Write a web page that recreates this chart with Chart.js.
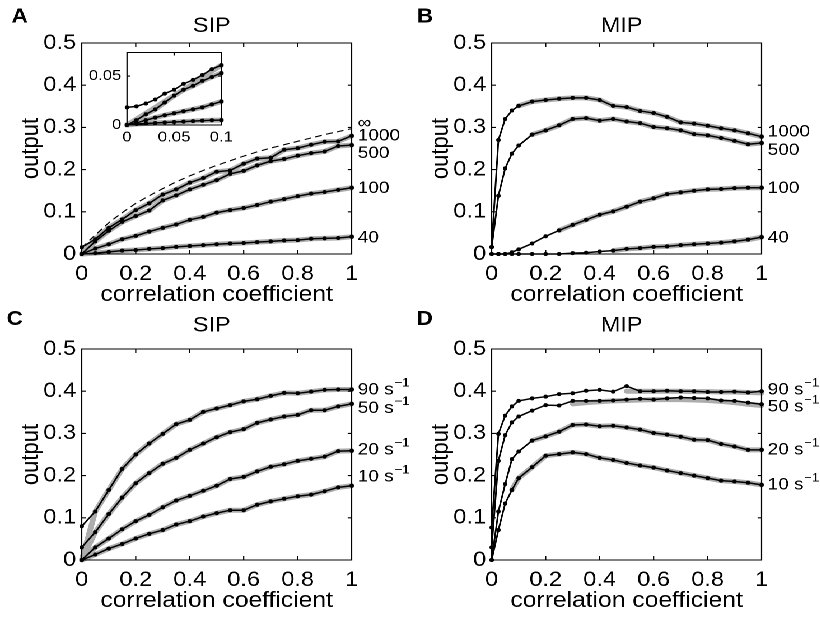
<!DOCTYPE html>
<html>
<head>
<meta charset="utf-8">
<script src="https://cdn.jsdelivr.net/npm/chart.js@4"></script>
<style>
  html, body { margin: 0; padding: 0; background: #fff; overflow: hidden; }
  #wrap { position: absolute; left: 0; top: 0; width: 732px; height: 617px; transform: scaleX(1.12); transform-origin: 0 0; }
  canvas { position: absolute; }
</style>
</head>
<body>
<div id="wrap">
  <canvas id="cA" width="366" height="308" style="left:0;top:0"></canvas>
  <canvas id="cB" width="366" height="308" style="left:366px;top:0"></canvas>
  <canvas id="cC" width="366" height="308" style="left:0;top:306px"></canvas>
  <canvas id="cD" width="366" height="308" style="left:366px;top:306px"></canvas>
  <canvas id="cI" width="143" height="107" style="left:70px;top:40px"></canvas>
</div>
<script>
// correlation coefficients
const xSip = [0, 0.05, 0.1, 0.15, 0.2, 0.25, 0.3, 0.35, 0.4, 0.45, 0.5, 0.55, 0.6, 0.65, 0.7, 0.75, 0.8, 0.85, 0.9, 0.95, 1];
const xMip = [0, 0.025, 0.05, 0.075, 0.1, 0.15, 0.2, 0.25, 0.3, 0.35, 0.4, 0.45, 0.5, 0.55, 0.6, 0.65, 0.7, 0.75, 0.8, 0.85, 0.9, 0.95, 1];
const xInset = [0, 0.01, 0.02, 0.03, 0.04, 0.05, 0.06, 0.07, 0.08, 0.09, 0.1];

// A: SIP, number of inputs
const a1000 = [0.016, 0.035, 0.062, 0.082, 0.104, 0.120, 0.141, 0.153, 0.169, 0.180, 0.195, 0.198, 0.214, 0.226, 0.228, 0.247, 0.251, 0.259, 0.266, 0.267, 0.280];
const a500 = [0, 0.030, 0.055, 0.076, 0.090, 0.103, 0.127, 0.139, 0.153, 0.164, 0.175, 0.190, 0.197, 0.210, 0.220, 0.225, 0.233, 0.239, 0.243, 0.256, 0.258];
const a100 = [0, 0.013, 0.023, 0.035, 0.043, 0.053, 0.062, 0.070, 0.081, 0.088, 0.098, 0.104, 0.109, 0.116, 0.124, 0.130, 0.137, 0.143, 0.147, 0.152, 0.157];
const a40 = [0, 0.002, 0.005, 0.008, 0.0095, 0.012, 0.014, 0.017, 0.019, 0.021, 0.023, 0.025, 0.026, 0.028, 0.030, 0.032, 0.033, 0.036, 0.037, 0.038, 0.041];
const aInf = [0.015, 0.045, 0.074, 0.098, 0.120, 0.138, 0.155, 0.171, 0.185, 0.198, 0.210, 0.221, 0.232, 0.242, 0.251, 0.259, 0.267, 0.275, 0.283, 0.290, 0.297];

// inset of A
const i1000 = [0.018, 0.019, 0.022, 0.026, 0.032, 0.036, 0.042, 0.046, 0.051, 0.057, 0.061];
const i500 = [0, 0.005, 0.011, 0.016, 0.023, 0.030, 0.036, 0.040, 0.045, 0.049, 0.053];
const i100 = [0, 0.002, 0.005, 0.0075, 0.010, 0.012, 0.014, 0.016, 0.018, 0.021, 0.024];
const i40 = [0, 0.001, 0.0015, 0.002, 0.0025, 0.003, 0.0035, 0.004, 0.0045, 0.0048, 0.005];
const i1000Theory = [0, 0.006, 0.012, 0.018, 0.024, 0.030, 0.036, 0.042, 0.048, 0.055, 0.061];

// B: MIP, number of inputs
const b1000 = [0.017, 0.27, 0.32, 0.34, 0.351, 0.361, 0.365, 0.368, 0.370, 0.370, 0.365, 0.351, 0.348, 0.339, 0.334, 0.325, 0.312, 0.309, 0.304, 0.298, 0.293, 0.286, 0.278];
const b500 = [0.016, 0.138, 0.203, 0.238, 0.257, 0.283, 0.293, 0.305, 0.320, 0.322, 0.316, 0.320, 0.314, 0.310, 0.301, 0.298, 0.293, 0.284, 0.281, 0.275, 0.268, 0.260, 0.263];
const b100 = [0, 0, 0, 0.004, 0.011, 0.025, 0.042, 0.056, 0.069, 0.081, 0.093, 0.101, 0.112, 0.124, 0.132, 0.142, 0.146, 0.150, 0.153, 0.154, 0.156, 0.157, 0.157];
const b40 = [0, 0, 0, 0, 0, 0, 0, 0, 0.002, 0.003, 0.006, 0.008, 0.012, 0.014, 0.017, 0.018, 0.021, 0.023, 0.025, 0.027, 0.030, 0.034, 0.040];

// C: SIP, input rates
const c90 = [0.08, 0.115, 0.166, 0.216, 0.250, 0.276, 0.299, 0.322, 0.332, 0.351, 0.359, 0.367, 0.376, 0.381, 0.389, 0.396, 0.395, 0.399, 0.403, 0.404, 0.404];
const c50 = [0.030, 0.066, 0.109, 0.148, 0.182, 0.206, 0.228, 0.242, 0.261, 0.276, 0.291, 0.303, 0.310, 0.325, 0.333, 0.340, 0.344, 0.355, 0.355, 0.364, 0.370];
const c20 = [0, 0.030, 0.051, 0.073, 0.092, 0.107, 0.125, 0.141, 0.152, 0.164, 0.176, 0.192, 0.197, 0.210, 0.221, 0.227, 0.235, 0.240, 0.245, 0.258, 0.259];
const c10 = [0, 0.013, 0.027, 0.038, 0.051, 0.062, 0.071, 0.084, 0.092, 0.103, 0.111, 0.118, 0.118, 0.131, 0.139, 0.145, 0.151, 0.155, 0.163, 0.172, 0.176];

// D: MIP, input rates
const d90 = [0.077, 0.299, 0.342, 0.364, 0.377, 0.383, 0.387, 0.393, 0.395, 0.401, 0.403, 0.399, 0.412, 0.400, 0.400, 0.401, 0.400, 0.400, 0.398, 0.398, 0.399, 0.397, 0.400];
const d50 = [0.030, 0.235, 0.296, 0.326, 0.340, 0.354, 0.367, 0.366, 0.377, 0.377, 0.377, 0.378, 0.380, 0.382, 0.380, 0.383, 0.385, 0.384, 0.383, 0.378, 0.377, 0.373, 0.369];
const d20 = [0, 0.115, 0.180, 0.239, 0.257, 0.283, 0.293, 0.304, 0.320, 0.321, 0.317, 0.318, 0.314, 0.309, 0.301, 0.297, 0.292, 0.285, 0.284, 0.275, 0.269, 0.261, 0.261];
const d10 = [0, 0.071, 0.134, 0.166, 0.194, 0.220, 0.247, 0.251, 0.255, 0.251, 0.242, 0.237, 0.230, 0.224, 0.219, 0.212, 0.206, 0.200, 0.194, 0.188, 0.186, 0.183, 0.178];
const d90Theory = [null, null, null, null, null, null, null, null, null, null, null, null, 0.400, 0.400, 0.400, 0.400, 0.400, 0.399, 0.399, 0.398, 0.398, 0.397, 0.396];
const d50Theory = [null, null, null, null, null, null, null, null, 0.370, 0.373, 0.375, 0.377, 0.378, 0.379, 0.380, 0.380, 0.380, 0.379, 0.378, 0.376, 0.373, 0.369, 0.366];

// ticks and line labels
const xTicks = [0, 0.2, 0.4, 0.6, 0.8, 1];
const yTicks = [0, 0.1, 0.2, 0.3, 0.4, 0.5];
const insetXTicks = [0, 0.05, 0.1];
const insetYTicks = [0, 0.05];
const labelsA = ['∞', '1000', '500', '100', '40'];
const labelAtA = [0.31, 0.28, 0.239, 0.156, 0.038];
const labelsB = ['1000', '500', '100', '40'];
const labelAtB = [0.289, 0.246, 0.156, 0.038];
const labelsC = ['90', '50', '20', '10'];
const labelAtC = [0.403, 0.360, 0.261, 0.197];
const labelsD = ['90', '50', '20', '10'];
const labelAtD = [0.403, 0.363, 0.261, 0.178];

const K = 1.12;   // horizontal stretch of the wrapper
const FONT = '"Liberation Sans", Arial, Helvetica, sans-serif';

function line(xs, ys, from) {
    const out = [];
    xs.forEach((x, i) => {
        if (i >= (from || 0) && ys[i] != null) out.push({x: x, y: ys[i]});
    });
    return out;
}
const sim = (xs, ys) => ({
    data: line(xs, ys), borderColor: '#000', borderWidth: 1.5,
    pointRadius: 2, pointBackgroundColor: '#000', pointBorderWidth: 0, order: 0, clip: 8
});
const theory = (xs, ys, from) => ({
    data: line(xs, ys, from), borderColor: '#adadad', borderWidth: 5, pointRadius: 0,
    order: 2, clip: 8, borderCapStyle: 'round', borderJoinStyle: 'round'
});
const dashed = (xs, ys) => ({
    data: line(xs, ys), borderColor: '#000', borderWidth: 1.1, borderDash: [6, 4], pointRadius: 0, order: 1, clip: 8
});

// box, inward ticks, panel letter, title, labels at line ends
const frame = {
    id: 'frame',
    afterDraw(chart, args, o) {
        const {ctx, chartArea: a} = chart;
        const sx = chart.scales.x, sy = chart.scales.y;
        ctx.save();
        ctx.strokeStyle = '#000';
        ctx.lineWidth = 1.1;
        ctx.beginPath();
        ctx.rect(a.left, a.top, a.right - a.left, a.bottom - a.top);
        sx.ticks.forEach(t => {
            const p = sx.getPixelForValue(t.value);
            ctx.moveTo(p, a.bottom); ctx.lineTo(p, a.bottom - o.tick);
            ctx.moveTo(p, a.top); ctx.lineTo(p, a.top + o.tick);
        });
        sy.ticks.forEach(t => {
            const p = sy.getPixelForValue(t.value);
            ctx.moveTo(a.left, p); ctx.lineTo(a.left + o.tick / K, p);
            ctx.moveTo(a.right, p); ctx.lineTo(a.right - o.tick / K, p);
        });
        ctx.stroke();

        ctx.fillStyle = '#000';
        ctx.textBaseline = 'middle';
        if (o.letter) {
            ctx.font = 'bold 20px ' + FONT;
            ctx.textAlign = 'left';
            ctx.fillText(o.letter, o.letterX, o.letterY);
        }
        if (o.title) {
            ctx.font = '21px ' + FONT;
            ctx.textAlign = 'center';
            ctx.fillText(o.title, (a.left + a.right) / 2 - 4.5, o.titleY);
        }
        if (o.labels) {
            ctx.textAlign = 'left';
            o.labels.forEach((txt, i) => {
                const y = sy.getPixelForValue(o.labelAt[i]);
                const x = a.right + 5.4;
                ctx.font = '17px ' + FONT;
                const t = o.unit ? txt + ' s' : txt;
                ctx.fillText(t, x, y);
                if (o.unit) {
                    const w = ctx.measureText(t).width;
                    ctx.font = '12px ' + FONT;
                    ctx.fillText('\u22121', x + w + 0.5, y - 6.5);
                }
            });
        }
        ctx.restore();
    }
};

function axis(ticks, o) {
    return {
        type: 'linear', min: o.min, max: o.max, position: o.position,
        afterFit: s => { if (o.position === 'left') s.width = o.size; else s.height = o.size; },
        afterBuildTicks: s => { s.ticks = ticks.map(v => ({value: v})); },
        grid: {display: false, drawTicks: false},
        border: {display: false},
        ticks: {
            color: '#000', padding: o.pad, maxRotation: 0, autoSkip: false,
            font: {family: FONT, size: o.font, lineHeight: 1},
            callback: v => String(v)
        },
        title: o.title ? {
            display: true, text: o.title, color: '#000',
            font: {family: FONT, size: 22, lineHeight: 1},
            padding: o.position === 'left' ? {top: 16.7, bottom: 0} : {top: 0, bottom: 2}
        } : {display: false}
    };
}

function panel(id, datasets, f) {
    return new Chart(document.getElementById(id), {
        type: 'line',
        data: {datasets: datasets},
        options: {
            responsive: false, animation: false, devicePixelRatio: 2, events: [],
            layout: {padding: {left: 0, top: 43, right: 52, bottom: 0}},
            plugins: {legend: {display: false}, tooltip: {enabled: false}, frame: f},
            scales: {
                x: axis(xTicks, {min: 0, max: 1, position: 'bottom', size: 54, pad: 9.5, font: 21, title: 'correlation coefficient'}),
                y: axis(yTicks, {min: 0, max: 0.5, position: 'left', size: 73, pad: 5, font: 21, title: 'output'})
            }
        },
        plugins: [frame]
    });
}

const a1000Theory = [0].concat(a1000.slice(1));
const c90Theory = [0].concat(c90.slice(1));
const c50Theory = [0].concat(c50.slice(1));

panel('cA', [
    theory(xSip, a1000Theory), theory(xSip, a500), theory(xSip, a100), theory(xSip, a40),
    dashed(xSip, aInf),
    sim(xSip, a1000), sim(xSip, a500), sim(xSip, a100), sim(xSip, a40)
], {tick: 4, letter: 'A', letterX: 10.4, letterY: 17, title: 'SIP', titleY: 26, labels: labelsA, labelAt: labelAtA});

panel('cB', [
    theory(xMip, b1000, 4), theory(xMip, b500, 5), theory(xMip, b100, 7), theory(xMip, b40, 11),
    sim(xMip, b1000), sim(xMip, b500), sim(xMip, b100), sim(xMip, b40)
], {tick: 4, letter: 'B', letterX: 6.2, letterY: 17, title: 'MIP', titleY: 26, labels: labelsB, labelAt: labelAtB});

panel('cC', [
    theory(xSip, c90Theory), theory(xSip, c50Theory), theory(xSip, c20), theory(xSip, c10),
    sim(xSip, c90), sim(xSip, c50), sim(xSip, c20), sim(xSip, c10)
], {tick: 4, letter: 'C', letterX: 6, letterY: 13.5, title: 'SIP', titleY: 19.8, labels: labelsC, labelAt: labelAtC, unit: true});

panel('cD', [
    theory(xMip, d90Theory), theory(xMip, d50Theory), theory(xMip, d20, 5), theory(xMip, d10, 3),
    sim(xMip, d90), sim(xMip, d50), sim(xMip, d20), sim(xMip, d10)
], {tick: 4, letter: 'D', letterX: 6, letterY: 13.5, title: 'MIP', titleY: 19.8, labels: labelsD, labelAt: labelAtD, unit: true});

// inset of panel A
new Chart(document.getElementById('cI'), {
    type: 'line',
    data: {datasets: [
        theory(xInset, i1000Theory), theory(xInset, i500), theory(xInset, i100), theory(xInset, i40),
        sim(xInset, i1000), sim(xInset, i500), sim(xInset, i100), sim(xInset, i40)
    ]},
    options: {
        responsive: false, animation: false, devicePixelRatio: 2, events: [],
        layout: {padding: {left: 0, top: 8, right: 13, bottom: 0}},
        plugins: {legend: {display: false}, tooltip: {enabled: false}, frame: {tick: 3}},
        scales: {
            x: axis(insetXTicks, {min: 0, max: 0.1, position: 'bottom', size: 22, pad: 5, font: 15}),
            y: axis(insetYTicks, {min: 0, max: 0.074, position: 'left', size: 43.4, pad: 5, font: 15})
        }
    },
    plugins: [frame]
});
</script>
</body>
</html>
